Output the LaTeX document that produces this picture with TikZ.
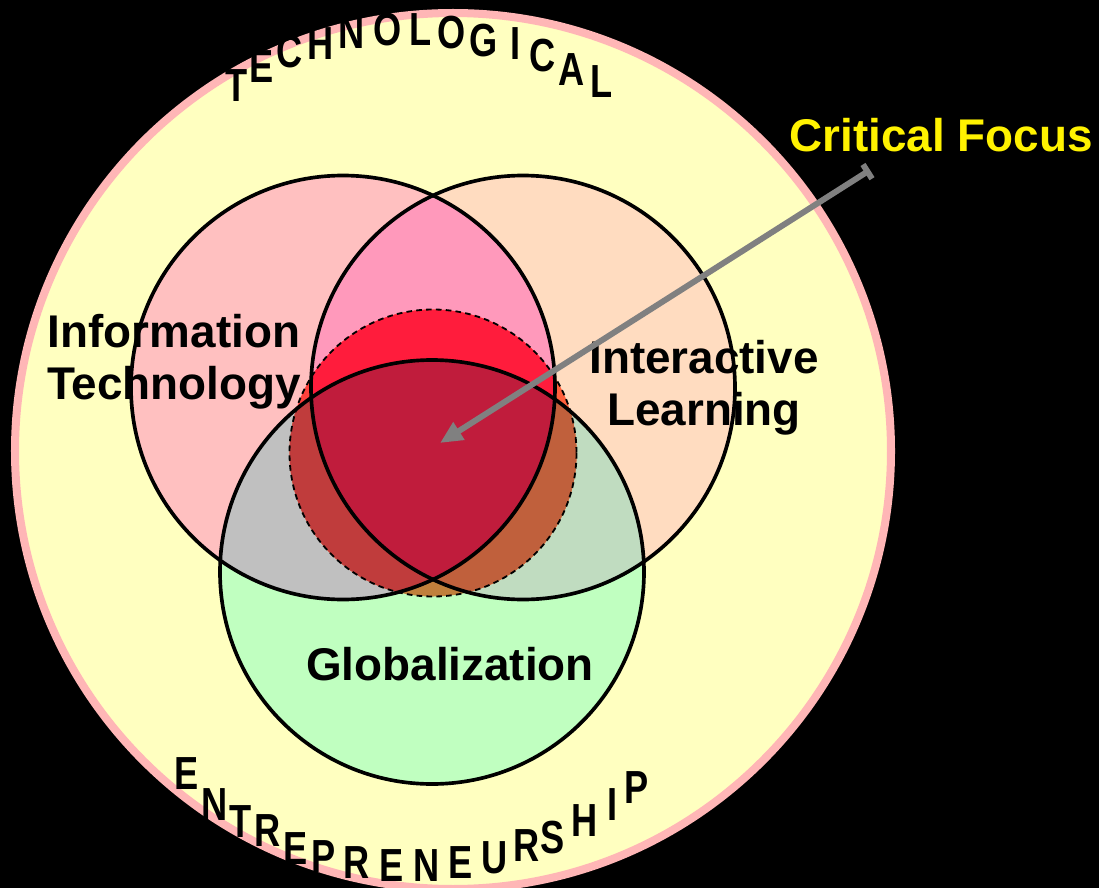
\documentclass[tikz,border=0pt]{standalone}
\usepackage{fontspec}
\setmainfont{Liberation Sans}
\usetikzlibrary{arrows.meta}

\definecolor{outerfill}{HTML}{FFFFC0}
\definecolor{outerline}{HTML}{FFB6B6}
\definecolor{itfill}{HTML}{FFC0C0}
\definecolor{ilfill}{HTML}{FFDCC0}
\definecolor{glfill}{HTML}{C0FFC0}
\definecolor{itil}{HTML}{FF99BB}
\definecolor{itgl}{HTML}{C0C0C0}
\definecolor{ilgl}{HTML}{C0DCC0}
\definecolor{dit}{HTML}{FF403C}
\definecolor{dil}{HTML}{FF603C}
\definecolor{ditil}{HTML}{FF1C3C}
\definecolor{dgl}{HTML}{C0803C}
\definecolor{ditgl}{HTML}{C03C3C}
\definecolor{dilgl}{HTML}{C0603C}
\definecolor{dall}{HTML}{C01C3C}
\definecolor{focusgray}{HTML}{808080}

\begin{document}
\begin{tikzpicture}[x=0.025cm,y=-0.025cm,
	ring/.style={draw=black,line width=2.6pt},
	word/.style={font=\bfseries\fontsize{32.6}{37}\selectfont,align=center,inner sep=0pt},
	letter/.style={font=\bfseries\fontsize{33}{33}\selectfont,inner sep=0pt}]
	\fill[black] (0,0) rectangle (1099,888);
	\useasboundingbox (0,0) rectangle (1099,888);

	\fill[outerfill] (453,451) circle (438);
	\draw[outerline,line width=5.7pt] (453,451) circle (438);

	\coordinate (it) at (343,387.5);
	\coordinate (il) at (523,387.5);
	\coordinate (gl) at (432,572);
	\coordinate (cf) at (433,453);

	\fill[itfill] (it) circle (212);
	\fill[ilfill] (il) circle (212);
	\fill[glfill] (gl) circle (212);
	\begin{scope}
		\clip (it) circle (212);
		\fill[itil] (il) circle (212);
	\end{scope}
	\begin{scope}
		\clip (gl) circle (212);
		\fill[itgl] (it) circle (212);
		\fill[ilgl] (il) circle (212);
		\clip (it) circle (212);
		\fill[dall] (il) circle (212);
	\end{scope}

	\begin{scope}
		\clip (cf) circle (143.5);
		\fill[dit] (it) circle (212);
		\fill[dil] (il) circle (212);
		\begin{scope}
			\clip (it) circle (212);
			\fill[ditil] (il) circle (212);
		\end{scope}
		\clip (gl) circle (212);
		\fill[dgl] (gl) circle (212);
		\fill[ditgl] (it) circle (212);
		\fill[dilgl] (il) circle (212);
		\clip (it) circle (212);
		\fill[dall] (il) circle (212);
	\end{scope}
	\draw[line width=1.3pt,dash pattern=on 4pt off 3pt] (cf) circle (143.5);

	\draw[ring] (it) circle (212);
	\draw[ring] (il) circle (212);
	\draw[ring] (gl) circle (212);

	\node[word] (itlabel) at (174,362) {Information\\Technology};
	\node[word] (illabel) at (704,388) {Interactive\\Learning};
	\node[word,anchor=base] (gllabel) at (450,680) {Globalization};

	\foreach \ch/\x/\y [count=\i] in {T/237/86,E/262/67,C/290/52,H/321/44,N/352/33,O/388/30,
		L/421/30,O/452/33,G/484/41,I/516/44,C/543/56,A/572/70,L/602/82}
		\node[letter] (top\i) at (\x,\y) {\scalebox{0.78}[1]{\ch}};
	\foreach \ch/\x/\y [count=\i] in {E/187/774,N/215/805,T/241/822,R/268/831,E/296/849,
		P/324/857,R/357/863,E/392/866,N/427/866,E/461/863,U/495/858,R/527/846,S/553/838,
		H/585/821,I/613/805,P/637/788}
		\node[letter] (bot\i) at (\x,\y) {\scalebox{0.78}[1]{\ch}};

	\node[word,anchor=base,text=yellow] (focuslabel) at (941,151) {Critical Focus};
	\coordinate (tail) at (870,170);
	\coordinate (focus) at (440,443);
	\draw[focusgray,line width=4.2pt,{Bar[width=12pt]}-{Triangle[length=16pt,width=14pt]}] (tail) -- (focus);
\end{tikzpicture}
\end{document}
